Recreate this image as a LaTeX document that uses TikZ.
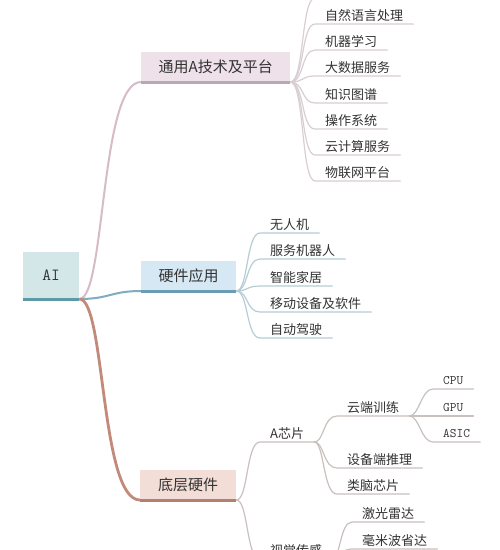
\documentclass[tikz,border=0pt]{standalone}
\usepackage{fontspec}
\setmainfont{Noto Sans CJK SC}
\definecolor{textc}{HTML}{333333}
\definecolor{rootfill}{HTML}{D3E6E8}
\definecolor{rootline}{HTML}{5E9AA5}
\definecolor{afill}{HTML}{EFE1EA}
\definecolor{aline}{HTML}{B8A8B0}
\definecolor{alink}{HTML}{D6BCC8}
\definecolor{aleaf}{HTML}{D8CED3}
\definecolor{bfill}{HTML}{D7E8F5}
\definecolor{bline}{HTML}{6A9DB3}
\definecolor{blink}{HTML}{7DADBE}
\definecolor{bleaf}{HTML}{B6CDD6}
\definecolor{cfill}{HTML}{F3DDD7}
\definecolor{cline}{HTML}{B3806F}
\definecolor{clink}{HTML}{C28A7A}
\definecolor{cleaf}{HTML}{C9C1BE}
\tikzset{
  leaf/.style={font=\fontsize{13}{15}\selectfont, text=textc, inner xsep=10pt, inner ysep=3pt, text depth=0pt, anchor=south west},
  tleaf/.style={font=\ttfamily\fontsize{13}{15}\selectfont, text=textc, inner xsep=10pt, inner ysep=4pt, text depth=0pt, anchor=south west},
  branch/.style={font=\fontsize{15}{18}\selectfont, text=textc, minimum height=30pt, inner sep=0pt, anchor=south west},
  rootbox/.style={font=\ttfamily\fontsize{17}{20}\selectfont, text=textc, fill=rootfill, minimum width=56pt, minimum height=47pt, inner sep=0pt, anchor=south west},
  conn/.style={line width=1.2pt, line cap=round},
}
\begin{document}
\begin{tikzpicture}[x=1pt,y=-1pt]
\useasboundingbox (0,0) rectangle (500,550);
\clip (0,0) rectangle (500,550);
\fill[white] (0,0) rectangle (500,550);

% root
\node[rootbox] (root) at (23,299) {AI};

% branches
\node[branch, fill=afill, minimum width=149pt] (ba) at (141,82) {通用A技术及平台};
\node[branch, fill=bfill, minimum width=95pt] (bb) at (141,291) {硬件应用};
\node[branch, fill=cfill, minimum width=96pt] (bc) at (140,500) {底层硬件};

% root connectors
\draw[alink, line width=2pt] (root.south east) .. controls +(26,0) and +(-41,0) .. (ba.south west);
\draw[blink, line width=2pt] (root.south east) .. controls +(30,0) and +(-30,0) .. (bb.south west);
\draw[clink, line width=2.8pt] (root.south east) .. controls +(26,0) and +(-40,0) .. (bc.south west);

\draw[rootline, line width=3pt] (root.south west) -- (root.south east);
\draw[aline, line width=3pt] (ba.south west) -- (ba.south east);
\draw[bline, line width=3pt] (bb.south west) -- (bb.south east);
\draw[cline, line width=3pt] (bc.south west) -- (bc.south east);

% branch A leaves
\coordinate (a0) at (315,-2);
\node[leaf] (a1) at (315,24) {自然语言处理};
\node[leaf] (a2) at (315,50) {机器学习};
\node[leaf] (a3) at (315,76) {大数据服务};
\node[leaf] (a4) at (315,103) {知识图谱};
\node[leaf] (a5) at (315,129) {操作系统};
\node[leaf] (a6) at (315,155) {云计算服务};
\node[leaf] (a7) at (315,181) {物联网平台};
\draw[aleaf, conn] (ba.south east) .. controls +(14,0) and +(-14,0) .. (a0);
\foreach \n in {a1,a2,a3,a4,a5,a6,a7}
  \draw[aleaf, conn] (ba.south east) .. controls +(14,0) and +(-14,0) .. (\n.south west) -- (\n.south east);

% branch B leaves
\node[leaf] (b1) at (260,233) {无人机};
\node[leaf] (b2) at (260,259) {服务机器人};
\node[leaf] (b3) at (260,286) {智能家居};
\node[leaf] (b4) at (260,312) {移动设备及软件};
\node[leaf] (b5) at (260,338) {自动驾驶};
\foreach \n in {b1,b2,b3,b4,b5}
  \draw[bleaf, conn] (bb.south east) .. controls +(12,0) and +(-14,0) .. (\n.south west) -- (\n.south east);

% branch C
\node[leaf] (c1) at (260,442) {A芯片};
\node[leaf] (c2) at (260,559) {视觉传感};
\foreach \n in {c1,c2}
  \draw[cleaf, conn] (bc.south east) .. controls +(12,0) and +(-14,0) .. (\n.south west) -- (\n.south east);

\node[leaf] (d1) at (337,416) {云端训练};
\node[leaf] (d2) at (337,468) {设备端推理};
\node[leaf] (d3) at (337,494) {类脑芯片};
\foreach \n in {d1,d2,d3}
  \draw[cleaf, conn] (c1.south east) .. controls +(10,0) and +(-14,0) .. (\n.south west) -- (\n.south east);

\node[tleaf] (e1) at (433,389) {CPU};
\node[tleaf] (e2) at (433,416) {GPU};
\node[tleaf] (e3) at (433,442) {ASIC};
\foreach \n in {e1,e2,e3}
  \draw[cleaf, conn] (d1.south east) .. controls +(10,0) and +(-12,0) .. (\n.south west) -- (\n.south east);

\node[leaf] (f1) at (352,522) {激光雷达};
\node[leaf] (f2) at (352,549) {毫米波省达};
\foreach \n in {f1,f2}
  \draw[cleaf, conn] (c2.south east) .. controls +(8,0) and +(-12,0) .. (\n.south west) -- (\n.south east);
\end{tikzpicture}
\end{document}
